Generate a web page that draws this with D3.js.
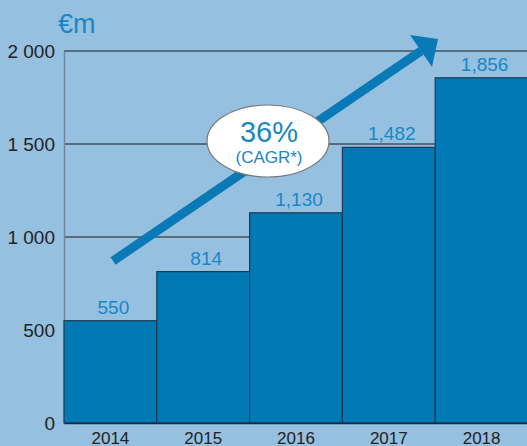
<!DOCTYPE html>
<html>
<head>
<meta charset="utf-8">
<script src="https://cdn.jsdelivr.net/npm/d3@7"></script>
<style>
  html, body { margin: 0; padding: 0; background: #95c0e0; }
  svg { display: block; font-family: "Liberation Sans", Arial, sans-serif; }
</style>
</head>
<body>
<div id="chart"></div>
<script>
const years = ['2014', '2015', '2016', '2017', '2018'];
const revenue = [550, 814, 1130, 1482, 1856];
const valueLabels = ['550', '814', '1,130', '1,482', '1,856'];
const yTicks = [0, 500, 1000, 1500, 2000];
const yTickLabels = ['0', '500', '1 000', '1 500', '2 000'];
const cagrText = ['36%', '(CAGR*)'];

let width = 527,
    height = 446,
    plotLeft = 64,
    plotTop = 51,
    plotBottom = 423;

let svg = d3.select('#chart').append('svg')
    .attr('width', width)
    .attr('height', height);

svg.append('rect')
    .attr('width', width)
    .attr('height', height)
    .attr('fill', '#95c0e0');

let x = d3.scaleBand().domain(years).range([plotLeft, 528]).padding(0);
let y = d3.scaleLinear().domain([0, 2000]).range([plotBottom, plotTop]);

// gridlines
svg.append('g')
    .selectAll('line')
    .data(yTicks.filter(d => d > 0))
    .join('line')
    .attr('x1', plotLeft)
    .attr('x2', width)
    .attr('y1', d => y(d))
    .attr('y2', d => y(d))
    .attr('stroke', '#1b1b1b')
    .attr('stroke-width', 1);

// y axis
let yAxis = d3.axisLeft(y)
    .tickValues(yTicks)
    .tickFormat((d, i) => yTickLabels[i])
    .tickSize(0)
    .tickPadding(9);

let gy = svg.append('g')
    .attr('transform', 'translate(' + plotLeft + ',0)')
    .call(yAxis);
gy.select('.domain').attr('stroke', '#70879a').attr('stroke-width', 1.5);
gy.selectAll('text')
    .attr('font-size', 19)
    .attr('fill', '#222')
    .attr('font-family', '"Liberation Sans", Arial, sans-serif');

// bars
svg.append('g')
    .selectAll('rect')
    .data(revenue)
    .join('rect')
    .attr('x', (d, i) => x(years[i]))
    .attr('y', d => y(d))
    .attr('width', x.bandwidth())
    .attr('height', d => y(0) - y(d))
    .attr('fill', '#0079b4')
    .attr('stroke', '#1d3a52')
    .attr('stroke-width', 1.2);

// x axis
let xAxis = d3.axisBottom(x).tickSize(0).tickPadding(9);
let gx = svg.append('g')
    .attr('transform', 'translate(0,' + plotBottom + ')')
    .call(xAxis);
gx.select('.domain').attr('stroke', '#1d2a36').attr('stroke-width', 1.5);
gx.selectAll('text')
    .attr('font-size', 17)
    .attr('fill', '#222')
    .attr('font-family', '"Liberation Sans", Arial, sans-serif');

// value labels
svg.append('g')
    .selectAll('text')
    .data(revenue)
    .join('text')
    .attr('x', (d, i) => x(years[i]) + x.bandwidth() / 2 + 3)
    .attr('y', d => y(d) - 7)
    .attr('text-anchor', 'middle')
    .attr('font-size', 19)
    .attr('fill', '#1a87c4')
    .text((d, i) => valueLabels[i]);

// unit
svg.append('text')
    .attr('x', 58)
    .attr('y', 33)
    .attr('font-size', 27)
    .attr('fill', '#1a87c4')
    .text('€m');

// growth arrow
let start = [113, 261],
    tip = [438, 39],
    wingA = [410, 35],
    wingB = [432, 67];
let baseMid = [(wingA[0] + wingB[0]) / 2, (wingA[1] + wingB[1]) / 2];

svg.append('line')
    .attr('x1', start[0])
    .attr('y1', start[1])
    .attr('x2', baseMid[0])
    .attr('y2', baseMid[1])
    .attr('stroke', '#0a7ab7')
    .attr('stroke-width', 9);

svg.append('path')
    .attr('d', d3.line()([tip, wingA, wingB]) + 'Z')
    .attr('fill', '#0a7ab7');

// CAGR bubble
svg.append('ellipse')
    .attr('cx', 268)
    .attr('cy', 141)
    .attr('rx', 61)
    .attr('ry', 36)
    .attr('fill', '#fff')
    .attr('stroke', '#7a7a7a')
    .attr('stroke-width', 1.2);

svg.append('text')
    .attr('x', 269)
    .attr('y', 142)
    .attr('text-anchor', 'middle')
    .attr('font-size', 29)
    .attr('fill', '#1a87c4')
    .text(cagrText[0]);

svg.append('text')
    .attr('x', 269)
    .attr('y', 163)
    .attr('text-anchor', 'middle')
    .attr('font-size', 17)
    .attr('fill', '#1a87c4')
    .text(cagrText[1]);
</script>
</body>
</html>
